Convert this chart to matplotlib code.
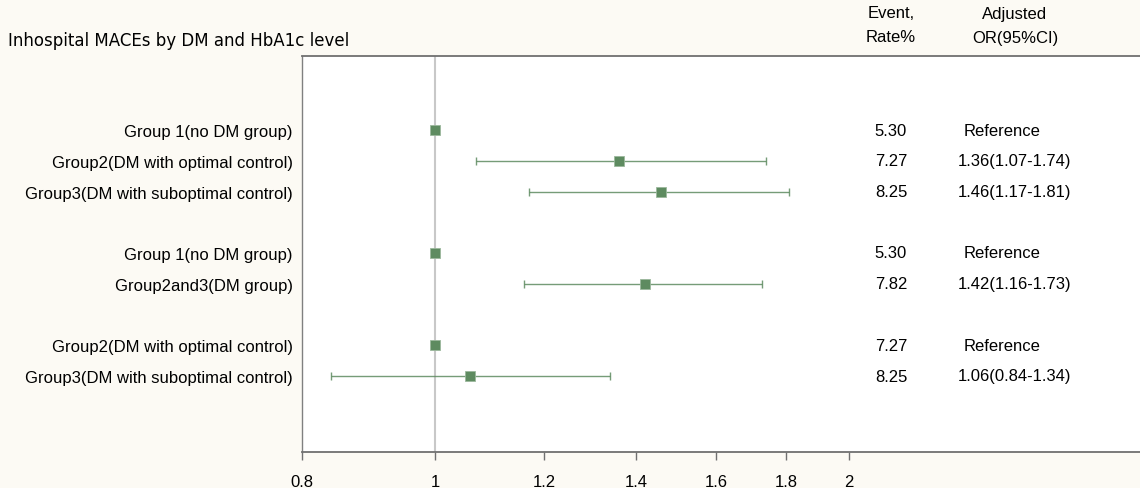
import numpy as np
import matplotlib
matplotlib.use("Agg")
import matplotlib.pyplot as plt

labels = ["Group 1(no DM group)", "Group2(DM with optimal control)",
          "Group3(DM with suboptimal control)",
          "Group 1(no DM group)", "Group2and3(DM group)",
          "Group2(DM with optimal control)", "Group3(DM with suboptimal control)"]
rows = [1, 2, 3, 5, 6, 8, 9]
odds = [1.00, 1.36, 1.46, 1.00, 1.42, 1.00, 1.06]
ci_lo = [np.nan, 1.07, 1.17, np.nan, 1.16, np.nan, 0.84]
ci_hi = [np.nan, 1.74, 1.81, np.nan, 1.73, np.nan, 1.34]
rates = ["5.30", "7.27", "8.25", "5.30", "7.82", "7.27", "8.25"]
or_text = ["Reference", "1.36(1.07-1.74)", "1.46(1.17-1.81)",
           "Reference", "1.42(1.16-1.73)", "Reference", "1.06(0.84-1.34)"]
xticks = [0.8, 1, 1.2, 1.4, 1.6, 1.8, 2]
xticklabels = ["0.8", "1", "1.2", "1.4", "1.6", "1.8", "2"]

bg = "#fcfaf4"
green = "#5e8b60"
sans = "Liberation Sans"
fs = 12

fig = plt.figure(figsize=(11.4, 4.89), dpi=100, facecolor=bg)
ax = fig.add_axes([302/1140, 1 - 452.7/489, 842/1140, (452.7 - 57)/489])
ax.set_facecolor("white")

ax.axvline(1, color="#c8c8c8", lw=1.5, zorder=1)

odds = np.array(odds)
lo = np.array(ci_lo)
hi = np.array(ci_hi)
has_ci = ~np.isnan(lo)
yr = np.array(rows)
ax.errorbar(odds[has_ci], yr[has_ci],
            xerr=[odds[has_ci] - lo[has_ci], hi[has_ci] - odds[has_ci]],
            fmt="none", ecolor=green, elinewidth=1.0, capsize=3.2,
            capthick=1.0, alpha=0.85, zorder=2)
ax.plot(odds, yr, "s", color=green, markersize=7.5, markeredgecolor="#9bb89c",
        markeredgewidth=0.6, linestyle="none", zorder=3)

ax.set_xscale("log")
ax.set_xlim(0.8, 0.8 * np.exp(842 / 597))
ax.set_ylim(1 + (452.7 - 131) / 30.75, 1 + (57 - 131) / 30.75)
ax.set_xticks(xticks)
ax.set_xticklabels(xticklabels, fontsize=fs, family=sans)
ax.xaxis.set_minor_locator(plt.NullLocator())
ax.tick_params(axis="x", length=6, width=1, color="#707070", pad=10)
ax.set_yticks(rows)
ax.set_yticklabels(labels, fontsize=fs, family=sans)
ax.tick_params(axis="y", length=0, pad=6.5)

for s in ["top", "bottom"]:
    ax.spines[s].set_color("#707070")
    ax.spines[s].set_linewidth(1.3)
ax.spines["left"].set_color("#808080")
ax.spines["left"].set_linewidth(1.0)
ax.spines["right"].set_visible(False)

tr = ax.get_yaxis_transform()
aw = 842
for y, r, o in zip(rows, rates, or_text):
    ax.text((891 - 302) / aw, y, r, transform=tr, ha="center", va="center",
            fontsize=fs, family=sans)
    xo = 964 if o == "Reference" else 958
    ax.text((xo - 302) / aw, y, o, transform=tr, ha="left", va="center",
            fontsize=fs, family=sans)

fig.text(8/1140, 1 - 41/489, "Inhospital MACEs by DM and HbA1c level",
         ha="left", va="center", fontsize=12, family="DejaVu Sans")
fig.text(891/1140, 1 - 14/489, "Event,", ha="center", va="center",
         fontsize=fs, family=sans)
fig.text(891/1140, 1 - 38/489, "Rate%", ha="center", va="center",
         fontsize=fs, family=sans)
fig.text(1015/1140, 1 - 14/489, "Adjusted", ha="center", va="center",
         fontsize=fs, family=sans)
fig.text(1015/1140, 1 - 38/489, "OR(95%CI)", ha="center", va="center",
         fontsize=fs, family=sans)

fig.savefig("out.png", dpi=100, facecolor=bg)
